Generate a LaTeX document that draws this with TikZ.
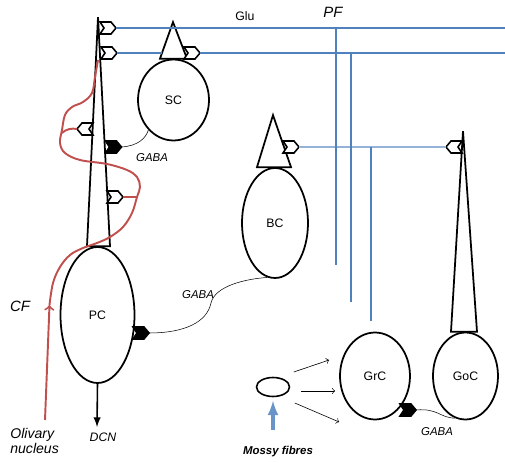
\documentclass[tikz,border=0pt]{standalone}
\usepackage{fontspec}
\setmainfont{Liberation Sans}
\usetikzlibrary{positioning,shapes,calc,arrows}
\definecolor{pfblue}{RGB}{79,129,189}
\definecolor{pflight}{RGB}{149,179,215}
\definecolor{cfred}{RGB}{192,80,77}

\begin{document}
\begin{tikzpicture}[x=0.02cm, y=-0.02cm, font=\fontsize{7}{8}\selectfont]
        \tikzset{
            cell/.style={draw, ellipse, line width=1pt, inner sep=0pt},
            soma/.style={draw, line width=1pt, line join=miter},
            pf/.style={draw=pfblue, line width=0.6pt},
            axon/.style={draw, line width=0.3pt},
            cf/.style={draw=cfred, line width=1.1pt},
            lbl/.style={font=\fontsize{6.5}{8}\selectfont\itshape},
            exc/.pic={
                \draw[line width=0.9pt, fill=white] (0,-6) -- (11,-6) -- (16,0) -- (11,6) -- (0,6) -- (4,0) -- cycle;
                \coordinate (-tip) at (16,0);
            },
            inh/.pic={
                \draw[line width=0.9pt, fill=black] (0,-6) -- (11,-6) -- (16,0) -- (11,6) -- (0,6) -- (4,0) -- cycle;
                \coordinate (-tip) at (16,0);
            },
        }
        \useasboundingbox (0,0) rectangle (505,463);

        % cells
        \node[cell, minimum width=1.48cm, minimum height=2.72cm] (pc) at (97.5,315) {PC};
        \node[cell, minimum width=1.42cm, minimum height=1.62cm] (sc) at (173.5,100) {SC};
        \node[cell, minimum width=1.32cm, minimum height=2.2cm] (bc) at (275,223) {BC};
        \node[cell, minimum width=1.4cm, minimum height=1.74cm] (grc) at (375,376) {GrC};
        \node[cell, minimum width=1.3cm, minimum height=1.74cm] (goc) at (465.5,376) {GoC};
        \node[cell, line width=0.9pt, minimum width=0.66cm, minimum height=0.38cm] (mf) at (273,387) {};

        % dendrites
        \draw[soma] ($(pc.north)+(-10.5,0)$) -- ($(pc.north)+(0.5,-229)$) -- ($(pc.north)+(12.5,0)$) -- cycle;
        \draw[soma] ($(sc.north)+(-13.5,0)$) -- ($(sc.north)+(-0.5,-36.5)$) -- ($(sc.north)+(13.5,0)$) -- cycle;
        \draw[soma] ($(bc.north)+(-18,0)$) -- ($(bc.north)+(-2,-52)$) -- ($(bc.north)+(16,0)$) -- cycle;
        \draw[soma] ($(goc.north)+(-14.5,0)$) -- ($(goc.north)+(-2.5,-200.5)$) -- ($(goc.north)+(11.5,0)$) -- cycle;

        % synapses
        \pic (pfa) at (100,28) {exc};
        \pic (pfb) at (101,53) {exc};
        \pic (scs) at (184,53) {exc};
        \pic[rotate=180] (cfa) at (93,129) {exc};
        \pic (cfb) at (107,197) {exc};
        \pic (scg) at (105.5,147) {inh};
        \pic (bcg) at (133,333) {inh};
        \pic (bcs) at (283,147) {exc};
        \pic[rotate=180] (gocs) at (462,147) {exc};
        \pic (grcg) at (400,410) {inh};

        % parallel fibres
        \coordinate (pfend1) at (505,28);
        \coordinate (pfend2) at (505,53);
        \coordinate (scleft) at ($(sc.north)+(-11,-6.5)$);
        \coordinate (asc1top) at (336,28);
        \coordinate (asc1bot) at (336,265);
        \coordinate (asc2top) at (351,53);
        \coordinate (asc2bot) at (351,302);
        \coordinate (asc3top) at (371,147);
        \draw[pf] (pfa-tip) -- (pfend1);
        \draw[pf] (pfb-tip) -- (pfb-tip -| scleft);
        \draw[pf] (scs-tip) -- (pfend2);
        \draw[draw=pflight, line width=0.6pt] (bcs-tip) -- (gocs-tip);
        \draw[pf] (asc1top) -- (asc1bot);
        \draw[pf] (asc2top) -- (asc2bot);
        \draw[pf, shorten >=6pt] (asc3top) -- (asc3top |- grc.north);

        % climbing fibre
        \coordinate (cfstart) at (45,420);
        \coordinate (cfhead) at (49.5,305);
        \draw[cf, ->] (cfstart) -- (cfhead);
        \draw[cf] plot[smooth, tension=0.6] coordinates {(cfhead) (53,283) (60,267) (70,255) (83,248) (97,243)
            (110,237) (123,227) (132,213) (137,197) (140,187) (137,177) (127,170) (107,164) (80,160)
            (65,153) (60,143) (62,130) (65,115) (72,107) (83,102) (92,93) (95,77) (98,60)};
        \draw[cf] (62,133) .. controls (66,129) and (72,128) .. (cfa-tip);
        \draw[cf] (137,197) -- (cfb-tip);

        % inhibitory axons
        \draw[axon] (scg-tip) .. controls (138,146) and (146,138) .. (sc.230);
        \draw[axon] (bcg-tip) .. controls (185,333) and (207,322) .. (211,303)
            .. controls (215,286) and (245,279) .. (bc.262);
        \draw[axon] (grcg-tip) .. controls (438,408) and (440,418) .. (goc.256);

        % mossy fibre
        \coordinate (mfin) at (273,430);
        \draw[draw=pfblue!85, line width=1.8pt, -latex, shorten >=2pt] (mfin) -- (mf.south);
        \draw[->, line width=0.35pt] ($(mf.east)+(3.5,-15)$) -- ($(grc.west)+(-10,-16)$);
        \draw[->, line width=0.35pt] ($(mf.east)+(10.5,4)$) -- ($(grc.west)+(-4,15)$);
        \draw[->, line width=0.35pt] ($(mf.east)+(4.5,16)$) -- ($(grc.west)+(0,46)$);

        % output
        \coordinate (dcnend) at (97,427);
        \draw[-latex, line width=0.9pt] (pc.south) -- (dcnend);

        % labels
        \node (glu) at (245,16) {Glu};
        \node[font=\fontsize{8.5}{9}\selectfont\itshape] (pflbl) at (333,12) {PF};
        \node[font=\fontsize{8.5}{9}\selectfont\itshape] (cflbl) at (20,306) {CF};
        \node[lbl] (gaba1) at (152,158) {GABA};
        \node[lbl] (gaba2) at (198,295) {GABA};
        \node[lbl] (gaba3) at (437,432) {GABA};
        \node[lbl, font=\fontsize{7}{8}\selectfont\itshape] (dcn) at (103,437) {DCN};
        \node[anchor=west, align=left, inner sep=0pt, font=\fontsize{8}{8.5}\selectfont\itshape] (olive) at (10,441) {Olivary\\nucleus};
        \node[font=\fontsize{6.5}{8}\selectfont\bfseries\itshape] (mflbl) at (278,452) {Mossy fibres};
    \end{tikzpicture}
\end{document}
